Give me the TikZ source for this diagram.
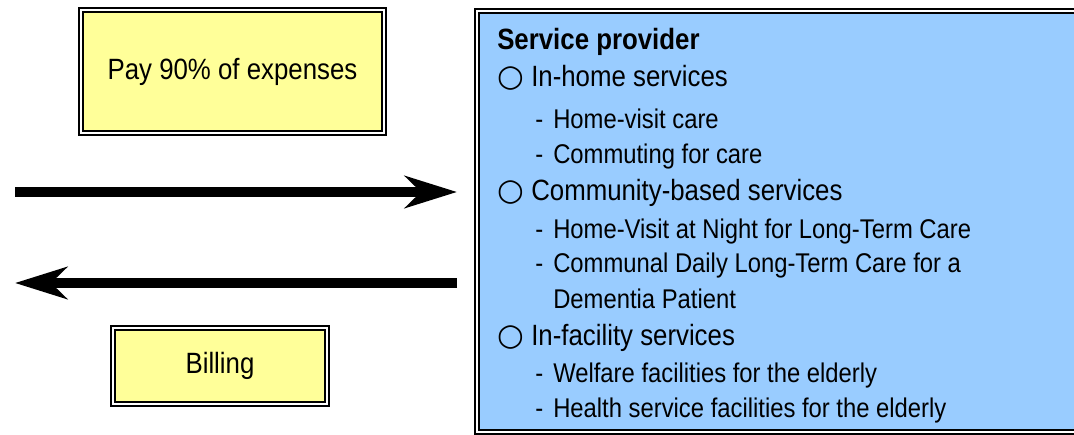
\documentclass[tikz,border=0pt]{standalone}
\usepackage{fontspec}
\setmainfont{Liberation Sans}[FakeStretch=0.88]
\newfontfamily\circfont{DejaVu Sans}
\usetikzlibrary{arrows.meta}
\definecolor{note}{HTML}{FFFF99}
\definecolor{sky}{HTML}{99CCFF}
\tikzstyle{memo} = [draw, line width=1.6pt, double=white, double distance=1.4pt, fill=note, font=\fontsize{22}{26}\selectfont]
\tikzstyle{panel} = [draw, line width=1.6pt, double=white, double distance=1.4pt, fill=sky]
\tikzstyle{flow} = [line width=7.5pt, -{Stealth[length=39pt,width=24pt,inset=12pt]}]
\tikzstyle{head} = [anchor=base west, inner sep=0pt, font=\fontsize{22}{26}\selectfont]
\tikzstyle{item} = [anchor=base west, inner sep=0pt, font=\fontsize{20.3}{24}\selectfont]
\newcommand{\bul}{\makebox[25.5pt][l]{\circfont\fontsize{23}{26}\selectfont ○}}
\newcommand{\dsh}{\makebox[13.5pt][l]{-}}

\begin{document}
\begin{tikzpicture}[x=0.75pt,y=-0.75pt]
  \clip (0,0) rectangle (1074,435);

  %payer side
  \node[memo, minimum width=227pt, minimum height=92pt] at (232.5,71.5) (pay) {Pay 90\% of expenses};
  \node[memo, minimum width=160.5pt, minimum height=57pt] at (220,366) (bill) {Billing};

  %provider panel
  \node[panel, anchor=north west, minimum width=470pt, minimum height=315.75pt] at (476,10) (prov) {};
  \node[head] at (497,50) (title) {\textbf{Service provider}};
  \node[head] at (497,87) (home) {\bul In-home services};
  \node[item] at (535,128) (home1) {\dsh Home-visit care};
  \node[item] at (535,163) (home2) {\dsh Commuting for care};
  \node[head] at (497,200) (comm) {\bul Community-based services};
  \node[item] at (535,238) (comm1) {\dsh Home-Visit at Night for Long-Term Care};
  \node[item] at (535,272) (comm2) {\dsh Communal Daily Long-Term Care for a};
  \node[item] at (553,308) (comm3) {Dementia Patient};
  \node[head] at (497,345) (fac) {\bul In-facility services};
  \node[item] at (535,382) (fac1) {\dsh Welfare facilities for the elderly};
  \node[item] at (535,417) (fac2) {\dsh Health service facilities for the elderly};

  %money flows
  \coordinate (payL) at (15,192);
  \coordinate (payR) at (457,192);
  \coordinate (billR) at (457,283);
  \coordinate (billL) at (15,283);
  \draw[flow] (payL) -- (payR);
  \draw[flow] (billR) -- (billL);

\end{tikzpicture}
\end{document}
